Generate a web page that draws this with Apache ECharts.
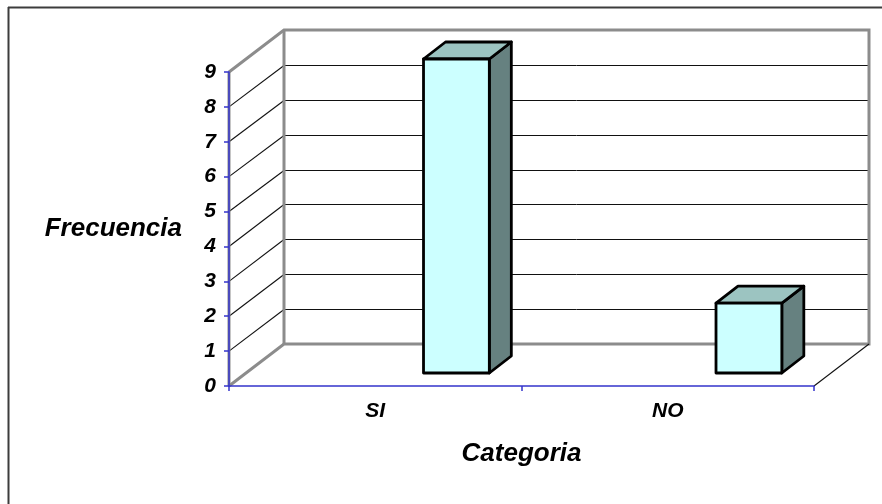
<!DOCTYPE html>
<html>
<head>
<meta charset="utf-8">
<title>Frecuencia por categoria</title>
<script src="https://cdn.jsdelivr.net/npm/echarts@6/dist/echarts.min.js"></script>
<style>
  html, body { margin: 0; padding: 0; background: #ffffff; }
  #chart { width: 882px; height: 504px; }
</style>
</head>
<body>
<div id="chart"></div>
<script>
// Data
const categories = ['SI', 'NO'];
const frecuencias = [9, 2];
const valueMin = 0;
const valueMax = 9;
const valueStep = 1;

const FONT = '"Liberation Sans", Arial, sans-serif';
const AXIS_BLUE = '#3434cc';
const WALL_GRAY = '#8c8c8c';
const GRID_DARK = '#111111';

// Oblique depth of the plot box (walls and floor)
const DEPTH_X = 55, DEPTH_Y = -42;
// Depth and placement of each 3D column
const BAR_DX = 22, BAR_DY = -17, BAR_LIFT = 13;

const chart = echarts.init(document.getElementById('chart'), null, { renderer: 'canvas' });

// snap a coordinate to the pixel centre so 1px lines stay crisp
const crisp = v => Math.round(v) + 0.5;

function renderWalls(params, api) {
  const cs = params.coordSys;
  const x0 = cs.x, x1 = cs.x + cs.width;
  const yAt = v => api.coord([0, v])[1];
  const y0 = yAt(valueMin), yTop = yAt(valueMax);
  const bx0 = x0 + DEPTH_X, bx1 = x1 + DEPTH_X;
  const byTop = yTop + DEPTH_Y, by0 = y0 + DEPTH_Y;
  const children = [];

  // Surfaces
  children.push({ type: 'polygon', shape: { points: [[x0, y0], [x0, yTop], [bx0, byTop], [bx0, by0]] },
    style: { fill: '#ffffff' } });
  children.push({ type: 'rect', shape: { x: bx0, y: byTop, width: bx1 - bx0, height: by0 - byTop },
    style: { fill: '#ffffff' } });
  children.push({ type: 'polygon', shape: { points: [[x0, y0], [x1, y0], [bx1, by0], [bx0, by0]] },
    style: { fill: '#ffffff' } });

  // Gridlines on the side wall and back wall
  for (let v = valueMin + valueStep; v < valueMax; v += valueStep) {
    const y = yAt(v);
    const yb = crisp(y + DEPTH_Y);
    children.push({ type: 'line', shape: { x1: x0, y1: y, x2: bx0, y2: yb },
      style: { stroke: GRID_DARK, lineWidth: 1.1 } });
    children.push({ type: 'line', shape: { x1: bx0, y1: yb, x2: bx1, y2: yb },
      style: { stroke: GRID_DARK, lineWidth: 1 } });
  }

  // Wall edges
  children.push({ type: 'polyline', shape: { points: [[x0, yTop], [bx0, byTop], [bx1, byTop], [bx1, by0], [bx0, by0], [x0, y0]] },
    style: { stroke: WALL_GRAY, lineWidth: 3, fill: null, lineJoin: 'miter' } });
  children.push({ type: 'line', shape: { x1: bx0, y1: byTop, x2: bx0, y2: by0 },
    style: { stroke: WALL_GRAY, lineWidth: 3 } });
  children.push({ type: 'line', shape: { x1: x0, y1: yTop, x2: x0, y2: y0 },
    style: { stroke: WALL_GRAY, lineWidth: 3 } });
  // Floor right edge
  children.push({ type: 'line', shape: { x1: x1, y1: y0, x2: bx1, y2: by0 },
    style: { stroke: GRID_DARK, lineWidth: 1.1 } });

  return { type: 'group', children: children };
}

function renderColumn(params, api) {
  const top = api.coord([api.value(0), api.value(1)]);
  const base = api.coord([api.value(0), valueMin]);
  const band = api.size([1, 0])[0];
  const l = top[0] + band * 0.165;
  const r = top[0] + band * 0.39;
  const yT = top[1] - BAR_LIFT;
  const yB = base[1] - BAR_LIFT;
  const edge = { stroke: '#000000', lineWidth: 2.8, lineJoin: 'round' };
  return {
    type: 'group',
    children: [
      { type: 'polygon', shape: { points: [[r, yT], [r + BAR_DX, yT + BAR_DY], [r + BAR_DX, yB + BAR_DY], [r, yB]] },
        style: Object.assign({ fill: '#668180' }, edge) },
      { type: 'polygon', shape: { points: [[l, yT], [l + BAR_DX, yT + BAR_DY], [r + BAR_DX, yT + BAR_DY], [r, yT]] },
        style: Object.assign({ fill: '#9cc4c1' }, edge) },
      { type: 'rect', shape: { x: l, y: yT, width: r - l, height: yB - yT },
        style: Object.assign({ fill: '#ccffff' }, edge) }
    ]
  };
}

const labelFont = { fontFamily: FONT, fontWeight: 'bold', fontStyle: 'italic', color: '#000000' };

chart.setOption({
  backgroundColor: '#ffffff',
  animation: false,
  grid: { left: 229, right: 68, top: 72, bottom: 118, containLabel: false },
  xAxis: {
    type: 'category',
    data: categories,
    boundaryGap: true,
    name: 'Categoria',
    nameLocation: 'middle',
    nameGap: 55,
    nameTextStyle: Object.assign({ fontSize: 26 }, labelFont),
    axisLine: { show: true, lineStyle: { color: AXIS_BLUE, width: 1.5 } },
    axisTick: { show: true, length: 5, inside: false, lineStyle: { color: AXIS_BLUE, width: 1.5 } },
    axisLabel: Object.assign({ fontSize: 21, margin: 15 }, labelFont),
    splitLine: { show: false },
    z: 5
  },
  yAxis: {
    type: 'value',
    min: valueMin,
    max: valueMax,
    interval: valueStep,
    name: 'Frecuencia',
    nameLocation: 'middle',
    nameRotate: 0,
    nameGap: 47,
    nameTextStyle: Object.assign({ fontSize: 26 }, labelFont),
    axisLine: { show: true, lineStyle: { color: AXIS_BLUE, width: 1.5 } },
    axisTick: { show: true, length: 5, inside: false, lineStyle: { color: AXIS_BLUE, width: 1.5 } },
    axisLabel: Object.assign({ fontSize: 21, margin: 13 }, labelFont),
    splitLine: { show: false },
    z: 5
  },
  graphic: [
    { type: 'line', shape: { x1: 8.5, y1: 7, x2: 8.5, y2: 504 }, style: { stroke: '#3c3c3c', lineWidth: 2 }, silent: true },
    { type: 'line', shape: { x1: 8, y1: 7.5, x2: 882, y2: 7.5 }, style: { stroke: '#3c3c3c', lineWidth: 2 }, silent: true }
  ],
  series: [
    {
      type: 'custom',
      name: 'paredes',
      silent: true,
      z: 1,
      data: [[0, 0]],
      renderItem: renderWalls
    },
    {
      type: 'custom',
      name: 'Frecuencia',
      z: 3,
      data: categories.map((c, i) => [i, frecuencias[i]]),
      encode: { x: 0, y: 1 },
      renderItem: renderColumn
    }
  ]
});
</script>
</body>
</html>
